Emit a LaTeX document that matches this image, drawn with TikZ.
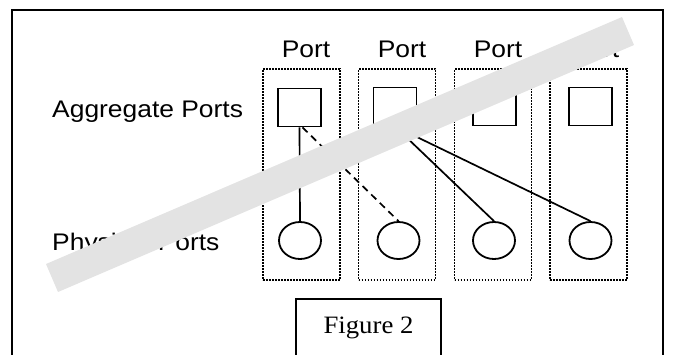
\documentclass[tikz,border=0pt]{standalone}
\usepackage{fontspec}
\setmainfont{Liberation Serif}
\setsansfont{Liberation Sans}
\usetikzlibrary{shapes.geometric}

\definecolor{bandgray}{gray}{0.89}

\begin{document}
\begin{tikzpicture}[x=1pt,y=-1pt,
	agg/.style={rectangle,draw,line width=1.8pt,minimum width=43pt,minimum height=38pt,inner sep=0pt},
	phys/.style={ellipse,draw,line width=1.8pt,minimum width=42pt,minimum height=37pt,inner sep=0pt},
	group/.style={rectangle,draw,line width=1.6pt,dash pattern=on 1.6pt off 1.4pt,minimum width=77pt,minimum height=211pt,inner sep=0pt},
	lbl/.style={font=\sffamily\fontsize{24}{28}\selectfont,inner sep=0pt,xscale=1.1}]
	\useasboundingbox (0,0) rectangle (673,354);
	\draw[line width=2.2pt] (12,10) rectangle (663,380);

	\node[group](g1) at (301.5,174.5) {};
	\node[group](g2) at (397,174.5) {};
	\node[group](g3) at (493,174.5) {};
	\node[group](g4) at (588.5,174.5) {};

	\node[lbl,anchor=base](p1) at (306,57) {Port};
	\node[lbl,anchor=base](p2) at (402,57) {Port};
	\node[lbl,anchor=base](p3) at (498,57) {Port};
	\node[lbl,anchor=base](p4) at (595,57) {Port};

	\node[lbl,anchor=base west](aggtxt) at (52,117) {Aggregate Ports};
	\node[lbl,anchor=base west](phystxt) at (52,250) {Physical Ports};

	\node[agg](a1) at (299.5,107.5) {};
	\node[agg](a2) at (395,106.5) {};
	\node[agg](a3) at (494.5,106.5) {};
	\node[agg](a4) at (590.5,106.5) {};

	\node[phys](c1) at (300,240.5) {};
	\node[phys](c2) at (398.5,240.5) {};
	\node[phys](c3) at (494,240.5) {};
	\node[phys](c4) at (590.5,240.5) {};

	\draw[line width=1.7pt] (a1.south) -- (c1.north);
	\draw[line width=1.7pt,dash pattern=on 7pt off 5pt] ([xshift=3pt]a1.south) -- (c2.north);
	\draw[line width=1.7pt] (a2.south) -- (c3.north);
	\draw[line width=1.7pt] (a2.south) -- (c4.north);

	% diagonal band laid over the ports
	\fill[bandgray] (46,264) -- (622,17) -- (634,45) -- (58,292) -- cycle;

	\node[draw,line width=1.8pt,minimum width=135pt,minimum height=58pt,inner sep=0pt,
		font=\fontsize{25}{29}\selectfont,xscale=1.07](fig) at (368.5,328) {Figure 2};
\end{tikzpicture}
\end{document}
